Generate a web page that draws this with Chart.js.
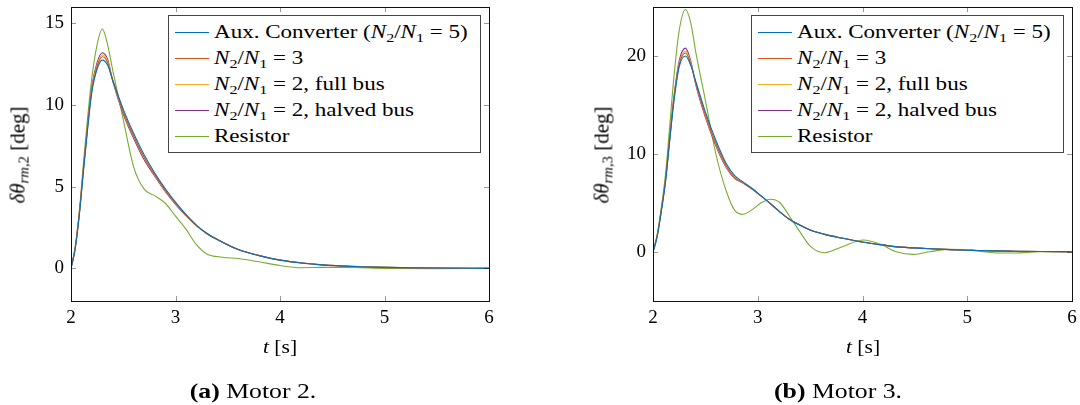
<!DOCTYPE html>
<html>
<head>
<meta charset="utf-8">
<script src="https://cdn.jsdelivr.net/npm/chart.js@4.4.0/dist/chart.umd.min.js"></script>
<style>
  body { margin:0; background:#fff; width:1080px; height:405px; overflow:hidden; position:relative;
         font-family:"Liberation Serif", serif; color:#000; }
  .panel { position:absolute; top:0; width:540px; height:360px; }
  .panel canvas { position:absolute; left:0; top:0; }
  .legend { position:absolute; box-sizing:border-box; width:313px; border:1px solid #444; background:#fff;
            padding:4px 0 2px 6px; font-size:18px; white-space:nowrap; overflow:hidden; }
  .legend .row { display:flex; align-items:center; height:26px; }
  .legend .swatch { width:34px; height:1.4px; margin-right:5px; flex:none; }
  .legend .txt { display:inline-block; transform:scaleX(1.28); transform-origin:left center; }
  .ytitle { position:absolute; transform:translate(-50%,-50%) rotate(-90deg) scaleX(1.05); white-space:nowrap; font-size:20px; }
  .xtitle { position:absolute; transform:translate(-50%,-50%) scaleX(1.2); white-space:nowrap; font-size:18px; }
  .caption { position:absolute; top:378px; font-size:22px; transform:translateX(-50%) scaleX(1.17); white-space:nowrap; }
  .sub { font-size:70%; position:relative; top:0.3em; line-height:0; }
</style>
</head>
<body>

<div class="panel" style="left:0px">
  <canvas id="chart1" width="540" height="360"></canvas>
  <div class="legend" id="legend1"></div>
  <div class="ytitle" id="ytitle1"><i>δθ</i><span class="sub"><i>rm</i>,2</span> [deg]</div>
  <div class="xtitle" id="xtitle1"><i>t</i> [s]</div>
</div>
<div class="panel" style="left:540px">
  <canvas id="chart2" width="540" height="360"></canvas>
  <div class="legend" id="legend2"></div>
  <div class="ytitle" id="ytitle2"><i>δθ</i><span class="sub"><i>rm</i>,3</span> [deg]</div>
  <div class="xtitle" id="xtitle2"><i>t</i> [s]</div>
</div>
<div class="caption" style="left:253px"><b>(a)</b> Motor 2.</div>
<div class="caption" style="left:838px"><b>(b)</b> Motor 3.</div>

<script>
// legend entries (same for both motors)
var seriesNames = [
  'Aux. Converter (<i>N</i><span class="sub">2</span>/<i>N</i><span class="sub">1</span> = 5)',
  '<i>N</i><span class="sub">2</span>/<i>N</i><span class="sub">1</span> = 3',
  '<i>N</i><span class="sub">2</span>/<i>N</i><span class="sub">1</span> = 2, full bus',
  '<i>N</i><span class="sub">2</span>/<i>N</i><span class="sub">1</span> = 2, halved bus',
  'Resistor'
];
var xTicks = [2, 3, 4, 5, 6];

// ---- Motor 2 ----
var t2 = [2.0, 2.04, 2.08, 2.12, 2.16, 2.2, 2.25, 2.3, 2.35, 2.4, 2.5, 2.6, 2.7, 2.8, 2.9, 3.0, 3.1, 3.2, 3.3, 3.45, 3.6, 3.8, 4.0, 4.2, 4.4, 4.7, 5.0, 5.5, 6.0];
var aux2   = [0, 1.2, 3.3, 6.0, 8.6, 10.8, 12.2, 12.75, 12.45, 11.5, 9.75, 8.25, 6.95, 5.85, 4.9, 4.05, 3.3, 2.65, 2.15, 1.6, 1.15, 0.78, 0.5, 0.33, 0.21, 0.11, 0.06, 0.02, 0];
var n3_2   = [0, 1.2, 3.35, 6.1, 8.7, 10.95, 12.35, 12.95, 12.6, 11.5, 9.6, 8.1, 6.8, 5.75, 4.8, 3.97, 3.25, 2.62, 2.13, 1.6, 1.15, 0.78, 0.5, 0.33, 0.21, 0.11, 0.06, 0.02, 0];
var full2  = [0, 1.2, 3.35, 6.1, 8.75, 11.0, 12.45, 13.07, 12.7, 11.5, 9.55, 8.05, 6.75, 5.72, 4.78, 3.95, 3.24, 2.62, 2.13, 1.6, 1.15, 0.78, 0.5, 0.33, 0.21, 0.11, 0.06, 0.02, 0];
var half2  = [0, 1.25, 3.4, 6.2, 8.85, 11.15, 12.6, 13.2, 12.8, 11.45, 9.45, 7.95, 6.65, 5.65, 4.72, 3.92, 3.22, 2.61, 2.12, 1.6, 1.15, 0.79, 0.51, 0.34, 0.22, 0.12, 0.06, 0.02, 0];
var res2   = [0, 1.3, 3.5, 6.5, 9.3, 11.7, 13.7, 14.65, 13.7, 12.1, 9.1, 6.2, 4.85, 4.45, 4.0, 3.2, 2.4, 1.45, 0.88, 0.68, 0.6, 0.4, 0.17, 0.04, 0.06, 0.05, 0.0, -0.03, 0];
var yTicks2 = [0, 5, 10, 15];

// ---- Motor 3 ----
var t3 = [2.0, 2.04, 2.08, 2.12, 2.16, 2.2, 2.25, 2.31, 2.36, 2.41, 2.5, 2.6, 2.7, 2.78, 2.86, 2.95, 3.03, 3.12, 3.21, 3.3, 3.4, 3.5, 3.64, 3.8, 4.01, 4.17, 4.33, 4.49, 4.65, 4.84, 5.05, 5.25, 5.45, 5.7, 6.0];
var aux3   = [0, 1.6, 4.2, 7.2, 11.4, 15.4, 18.9, 20.0, 19.05, 17.35, 14.3, 11.4, 9.0, 7.8, 7.15, 6.45, 5.75, 4.95, 4.1, 3.35, 2.75, 2.25, 1.8, 1.42, 0.99, 0.75, 0.52, 0.42, 0.33, 0.24, 0.17, 0.11, 0.08, 0.05, 0.03];
var n3_3   = [0, 1.6, 4.25, 7.3, 11.5, 15.6, 19.1, 20.3, 19.2, 17.2, 14.0, 11.1, 8.8, 7.6, 7.05, 6.4, 5.72, 4.93, 4.1, 3.36, 2.75, 2.25, 1.8, 1.42, 0.99, 0.75, 0.52, 0.42, 0.33, 0.24, 0.17, 0.11, 0.08, 0.05, 0.03];
var full3  = [0, 1.65, 4.3, 7.35, 11.6, 15.7, 19.25, 20.5, 19.35, 17.15, 13.9, 11.0, 8.7, 7.55, 7.05, 6.4, 5.72, 4.93, 4.1, 3.36, 2.75, 2.25, 1.8, 1.42, 0.99, 0.75, 0.52, 0.42, 0.33, 0.24, 0.17, 0.11, 0.08, 0.05, 0.03];
var half3  = [0, 1.65, 4.35, 7.45, 11.8, 15.9, 19.5, 20.8, 19.5, 17.0, 13.75, 10.85, 8.6, 7.5, 7.05, 6.4, 5.72, 4.93, 4.1, 3.36, 2.75, 2.25, 1.8, 1.42, 0.99, 0.75, 0.52, 0.42, 0.33, 0.24, 0.17, 0.11, 0.08, 0.05, 0.03];
var res3   = [0, 1.8, 4.6, 8.0, 12.9, 17.9, 22.6, 24.75, 23.4, 20.3, 15.5, 10.0, 6.2, 4.25, 3.85, 4.35, 5.0, 5.39, 5.05, 3.7, 2.1, 0.6, -0.07, 0.52, 1.23, 0.79, 0.0, -0.24, 0.05, 0.28, 0.17, -0.07, -0.1, 0.03, 0.03];
var yTicks3 = [0, 10, 20];

var colors = ['#0072BD', '#D95319', '#EDB120', '#7E2F8E', '#77AC30'];
var tickFont = { family: 'Liberation Serif', size: 19 };

function pts(t, v) {
  return t.map(function(x, i) { return { x: x, y: v[i] }; });
}

// box around the plot + little inward ticks on all four sides
var framePlugin = {
  id: 'frame',
  afterDatasetsDraw: function(chart) {
    var ctx = chart.ctx, a = chart.chartArea;
    var xs = chart.scales.x, ys = chart.scales.y;
    ctx.save();
    ctx.strokeStyle = 'rgba(0,0,0,0.4)';
    ctx.lineWidth = 1;
    ctx.beginPath();
    xs.ticks.forEach(function(tk) {
      var px = Math.round(xs.getPixelForValue(tk.value)) + 0.5;
      ctx.moveTo(px, a.bottom); ctx.lineTo(px, a.bottom - 5);
      ctx.moveTo(px, a.top); ctx.lineTo(px, a.top + 5);
    });
    ys.ticks.forEach(function(tk) {
      var py = Math.round(ys.getPixelForValue(tk.value)) + 0.5;
      ctx.moveTo(a.left, py); ctx.lineTo(a.left + 5, py);
      ctx.moveTo(a.right, py); ctx.lineTo(a.right - 5, py);
    });
    ctx.stroke();
    ctx.strokeStyle = '#111';
    ctx.strokeRect(Math.round(a.left) + 0.5, Math.round(a.top) + 0.5,
                   Math.round(a.right - a.left), Math.round(a.bottom - a.top));
    ctx.restore();
  }
};

// html legend + axis titles placed from the chart area
var overlayPlugin = {
  id: 'overlay',
  afterLayout: function(chart, args, opts) {
    var a = chart.chartArea;
    var leg = document.getElementById(opts.legend);
    if (!leg.hasChildNodes()) {
      chart.data.datasets.forEach(function(ds, i) {
        var row = document.createElement('div');
        row.className = 'row';
        row.innerHTML = '<div class="swatch" style="background:' + ds.borderColor + '"></div><span class="txt">' + seriesNames[i] + '</span>';
        leg.appendChild(row);
      });
    }
    leg.style.top = (a.top + 7.7) + 'px';
    leg.style.left = (a.right - 8.5 - leg.offsetWidth) + 'px';
    var yt = document.getElementById(opts.ytitle);
    yt.style.left = opts.ytitleX + 'px';
    yt.style.top = '155px';
    var xt = document.getElementById(opts.xtitle);
    xt.style.left = ((a.left + a.right) / 2) + 'px';
    xt.style.top = '347px';
  }
};

function makeChart(id, t, series, yMin, yMax, yTicks, yWidth, padRight, legendId, ytId, xtId, ytX) {
  var ctx = document.getElementById(id).getContext('2d');
  return new Chart(ctx, {
    type: 'line',
    data: {
      datasets: series.map(function(v, i) {
        return {
          label: 'series' + i,
          data: pts(t, v),
          borderColor: colors[i],
          borderWidth: 1.1,
          pointRadius: 0,
          fill: false,
          cubicInterpolationMode: 'monotone'
        };
      })
    },
    options: {
      responsive: false,
      animation: false,
      layout: { padding: { left: 0, top: 7, right: padRight, bottom: 0 } },
      plugins: {
        legend: { display: false },
        tooltip: { enabled: false },
        overlay: { legend: legendId, ytitle: ytId, xtitle: xtId, ytitleX: ytX }
      },
      scales: {
        x: {
          type: 'linear', min: 2, max: 6,
          grid: { display: false, drawTicks: false },
          border: { display: false },
          afterBuildTicks: function(s) { s.ticks = xTicks.map(function(v) { return { value: v }; }); },
          afterFit: function(s) { s.height = 59; s.paddingLeft = 0; s.paddingRight = 0; },
          ticks: { font: tickFont, color: '#000', padding: 6, maxRotation: 0 }
        },
        y: {
          type: 'linear', min: yMin, max: yMax,
          grid: { display: false, drawTicks: false },
          border: { display: false },
          afterBuildTicks: function(s) { s.ticks = yTicks.map(function(v) { return { value: v }; }); },
          afterFit: function(s) { s.width = yWidth; s.paddingTop = 0; s.paddingBottom = 0; },
          ticks: { font: tickFont, color: '#000', padding: 7 }
        }
      }
    },
    plugins: [framePlugin, overlayPlugin]
  });
}

makeChart('chart1', t2, [aux2, n3_2, full2, half2, res2], -2, 16, yTicks2, 71, 51, 'legend1', 'ytitle1', 'xtitle1', 18);
makeChart('chart2', t3, [aux3, n3_3, full3, half3, res3], -5, 25, yTicks3, 113, 8, 'legend2', 'ytitle2', 'xtitle2', 62);
</script>
</body>
</html>
